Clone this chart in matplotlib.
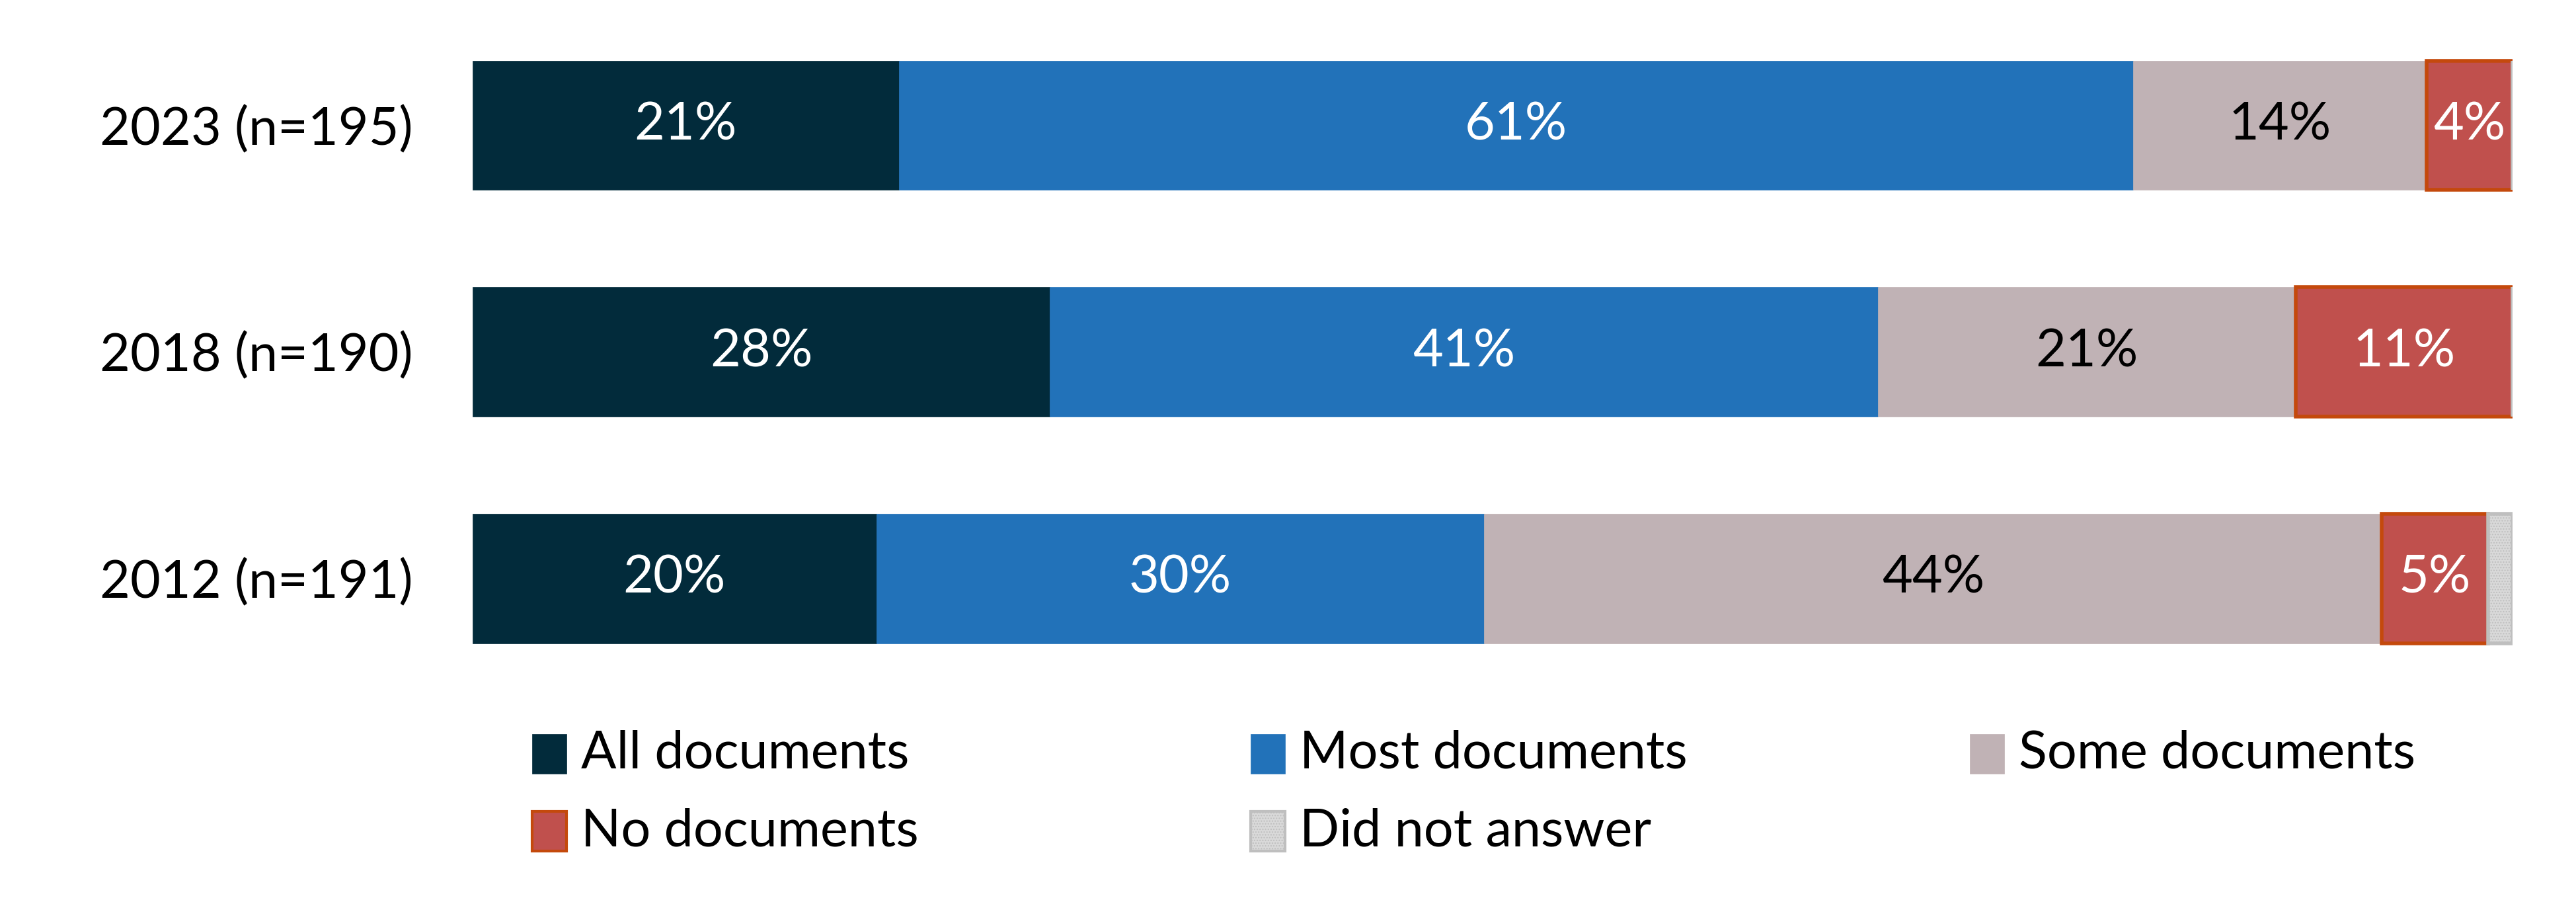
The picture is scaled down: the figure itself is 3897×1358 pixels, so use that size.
import numpy as np
import matplotlib
matplotlib.use('Agg')
import matplotlib.pyplot as plt
from matplotlib.patches import Rectangle

plt.rcParams['font.family'] = ['Lato', 'DejaVu Sans']

# --- data ---
years = ['2023 (n=195)', '2018 (n=190)', '2012 (n=191)']
categories = ['All documents', 'Most documents', 'Some documents', 'No documents', 'Did not answer']
all_docs = [20.9, 28.3, 19.8]
most_docs = [60.5, 40.6, 29.8]
some_docs = [14.4, 20.5, 44.0]
no_docs = [4.2, 10.6, 5.2]
no_answer = [0.0, 0.0, 1.2]
label_all = ['21%', '28%', '20%']
label_most = ['61%', '41%', '30%']
label_some = ['14%', '21%', '44%']
label_no = ['4%', '11%', '5%']

colors = ['#022B3B', '#2272B9', '#C0B2B5', '#C0504D', '#D9D9D9']
edges = ['#022B3B', '#2272B9', '#C0B2B5', '#C4490C', '#BFBFBF']
text_colors = ['white', 'white', 'black', 'white', 'black']

series = [all_docs, most_docs, some_docs, no_docs, no_answer]
labels = [label_all, label_most, label_some, label_no, None]

FS = 57

fig = plt.figure(figsize=(38.98, 13.58), dpi=100)
ax = fig.add_axes([0.1834, 0.2295, 0.975 - 0.1834, 0.770])

y = np.arange(len(years))
left = np.zeros(len(years))
for i, vals in enumerate(series):
    vals = np.array(vals)
    lw = 4.0 if i >= 3 else 0.5
    hatch = '....' if i == 4 else None
    ax.barh(y, vals, left=left, height=0.57, color=colors[i], edgecolor=edges[i],
            linewidth=lw, hatch=hatch)
    if labels[i] is not None:
        for j, v in enumerate(vals):
            if v > 0:
                ax.text(left[j] + v / 2, y[j], labels[i][j], ha='center', va='center',
                        fontsize=FS, color=text_colors[i])
    left = left + vals

ax.set_xlim(0, 100)
ax.set_ylim(2.5, -0.55)
ax.set_yticks(y)
ax.set_yticklabels(years, fontsize=FS)
ax.tick_params(axis='y', length=0, pad=65)
ax.set_xticks([])
for s in ax.spines.values():
    s.set_visible(False)

# legend, laid out by hand in three columns
W, H = 3898.0, 1358.0
col_x = [805, 1892, 2980]
row_y = [1140, 1257]
for k in range(len(categories)):
    cx = col_x[k % 3]
    cy = row_y[k // 3]
    sq_w, sq_h = 52, 60
    hatch = '....' if k == 4 else None
    lw = 3.0 if k >= 3 else 0.5
    fig.patches.append(Rectangle((cx / W, 1 - (cy + sq_h / 2) / H), sq_w / W, sq_h / H,
                                 transform=fig.transFigure, facecolor=colors[k],
                                 edgecolor=edges[k], linewidth=lw, hatch=hatch))
    fig.text((cx + sq_w + 22) / W, 1 - cy / H, categories[k], fontsize=FS,
             va='center', ha='left', color='black')

fig.savefig('out.png', dpi=100, facecolor='white')
